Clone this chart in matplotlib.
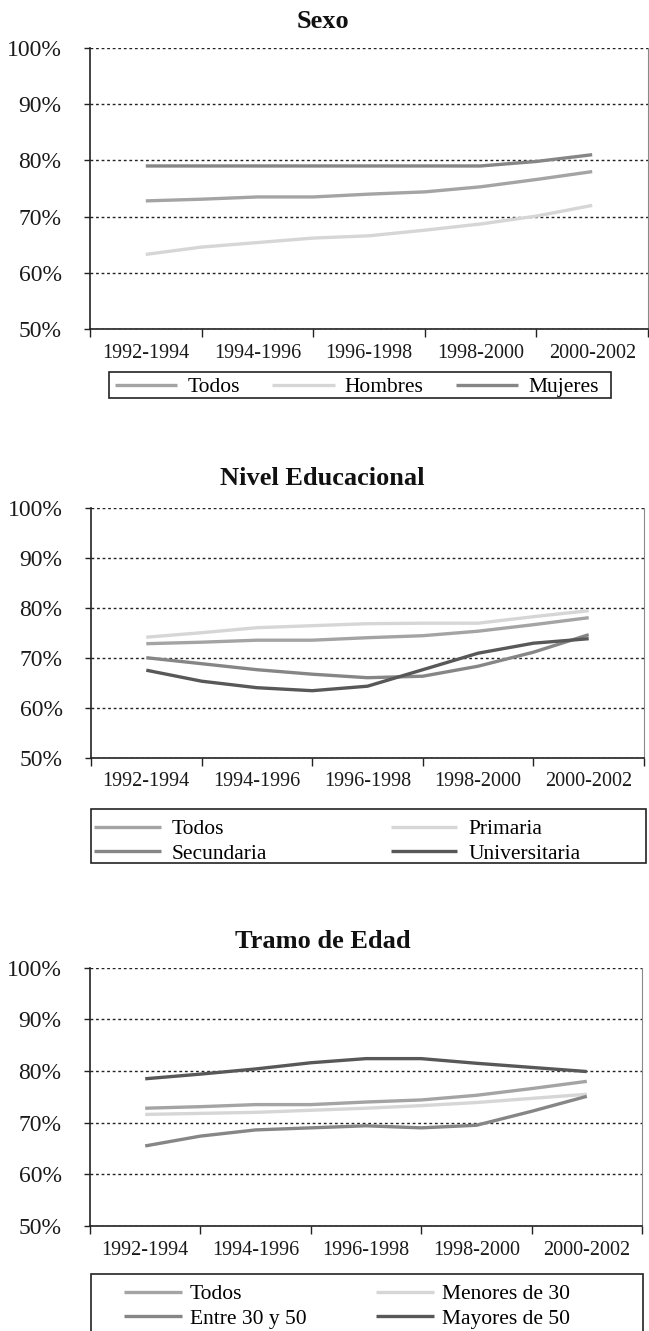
import numpy as np
import matplotlib
matplotlib.use('Agg')
import matplotlib.pyplot as plt
from matplotlib.patches import Rectangle
from matplotlib.ticker import FuncFormatter

plt.rcParams['font.family'] = ['Liberation Serif', 'DejaVu Serif']

# periodos móviles (cada año), se rotula uno de cada dos
periodos = ['1992-1994', '1993-1995', '1994-1996', '1995-1997', '1996-1998',
            '1997-1999', '1998-2000', '1999-2001', '2000-2002']
etiquetas = ['1992-1994', '1994-1996', '1996-1998', '1998-2000', '2000-2002']

todos = [72.8, 73.1, 73.5, 73.5, 74.0, 74.4, 75.3, 76.6, 78.0]
# Sexo
hombres = [63.3, 64.6, 65.4, 66.2, 66.6, 67.6, 68.7, 70.1, 72.0]
mujeres = [79.0, 79.0, 79.0, 79.0, 79.0, 79.0, 79.0, 79.8, 81.0]
# Nivel educacional
primaria = [74.1, 75.0, 76.0, 76.4, 76.8, 76.9, 76.9, 78.2, 79.4]
secundaria = [70.0, 68.8, 67.6, 66.7, 66.0, 66.3, 68.3, 71.1, 74.6]
universitaria = [67.5, 65.3, 64.0, 63.4, 64.3, 67.6, 70.9, 72.9, 73.8]
# Tramo de edad
menores30 = [71.6, 71.8, 72.0, 72.4, 72.8, 73.3, 73.9, 74.7, 75.5]
entre30_50 = [65.5, 67.4, 68.6, 69.0, 69.4, 69.0, 69.5, 72.2, 75.1]
mayores50 = [78.5, 79.4, 80.4, 81.6, 82.4, 82.4, 81.5, 80.7, 79.9]

C_TODOS = '#a4a4a4'
C_CLARO = '#d6d6d6'
C_MEDIO = '#868686'
C_OSCURO = '#585858'

W, H = 649, 1331
fig = plt.figure(figsize=(W / 100, H / 100), dpi=100)
LEG_FS = 15.5


def fx(px):
    return px / W


def fy(py):
    return 1 - py / H


def panel(left, right, top, bottom, titulo, title_y, series):
    ax = fig.add_axes([fx(left), fy(bottom), fx(right) - fx(left), (bottom - top) / H])
    x = np.arange(len(periodos))
    lines = []
    for nombre, vals, col in series:
        ln, = ax.plot(x, vals, color=col, lw=2.4, label=nombre, solid_capstyle='butt')
        lines.append(ln)
    ax.set_xlim(-1, len(periodos))
    ax.set_ylim(50, 100)
    ax.set_yticks(np.arange(50, 101, 10))
    ax.yaxis.set_major_formatter(FuncFormatter(lambda v, p: '%d%%' % v))
    ax.yaxis.grid(True, linestyle=(0, (2, 2)), color='#222222', lw=1)
    ax.set_axisbelow(True)
    ax.set_xticks(np.arange(-1, len(periodos) + 1, 2))
    ax.set_xticklabels([])
    ax.set_xticks(np.arange(0, len(periodos), 2), minor=True)
    ax.set_xticklabels(etiquetas, minor=True)
    ax.tick_params(axis='x', which='major', length=6, width=1, direction='out', color='#222222')
    ax.tick_params(axis='x', which='minor', length=0, pad=10.5, labelsize=14.5, labelcolor='#1a1a1a')
    ax.tick_params(axis='y', length=4, width=1, direction='out', pad=16.5, labelsize=17,
                   labelcolor='#1a1a1a', color='#222222')
    ax.spines['top'].set_visible(False)
    ax.spines['right'].set_color('#8a8a8a')
    ax.spines['left'].set_color('#222222')
    ax.spines['bottom'].set_color('#222222')
    ax.spines['left'].set_linewidth(1.2)
    ax.spines['bottom'].set_linewidth(1.2)
    fig.text(0.497, fy(title_y), titulo, ha='center', va='center', fontsize=19,
             fontweight='bold', color='#111111')
    return lines


def caja(x0, y0, x1, y1):
    fig.add_artist(Rectangle((fx(x0), fy(y1)), fx(x1) - fx(x0), (y1 - y0) / H,
                             transform=fig.transFigure, fill=False,
                             edgecolor='#222222', lw=1.2))


# Sexo
l1 = panel(90, 648, 47.7, 329.3, 'Sexo', 21.7,
           [('Todos', todos, C_TODOS), ('Hombres', hombres, C_CLARO), ('Mujeres', mujeres, C_MEDIO)])
fig.legend(handles=l1, loc='upper left', bbox_to_anchor=(fx(115), fy(377)), ncol=3,
           frameon=False, fontsize=LEG_FS, handlelength=2.9, handletextpad=0.47,
           columnspacing=1.5, borderpad=0, borderaxespad=0)
caja(109, 372, 611, 398)

# Nivel Educacional
l2 = panel(91, 644, 507.7, 757.7, 'Nivel Educacional', 478,
           [('Todos', todos, C_TODOS), ('Primaria', primaria, C_CLARO),
            ('Secundaria', secundaria, C_MEDIO), ('Universitaria', universitaria, C_OSCURO)])
fig.legend(handles=[l2[0], l2[2], l2[1], l2[3]], loc='upper left',
           bbox_to_anchor=(fx(94), fy(819)), ncol=2, frameon=False, fontsize=LEG_FS,
           handlelength=3.1, handletextpad=0.5, columnspacing=5.75, labelspacing=0.22,
           borderpad=0, borderaxespad=0)
caja(91, 809, 646, 863)

# Tramo de Edad
l3 = panel(90, 642, 967.7, 1226, 'Tramo de Edad', 942,
           [('Todos', todos, C_TODOS), ('Menores de 30', menores30, C_CLARO),
            ('Entre 30 y 50', entre30_50, C_MEDIO), ('Mayores de 50', mayores50, C_OSCURO)])
fig.legend(handles=[l3[0], l3[2], l3[1], l3[3]], loc='upper left',
           bbox_to_anchor=(fx(124), fy(1284)), ncol=2, frameon=False, fontsize=LEG_FS,
           handlelength=2.7, handletextpad=0.37, columnspacing=3.2, labelspacing=0.22,
           borderpad=0, borderaxespad=0)
caja(91, 1274, 643, 1345)

fig.savefig('out.png', dpi=100, facecolor='white')
